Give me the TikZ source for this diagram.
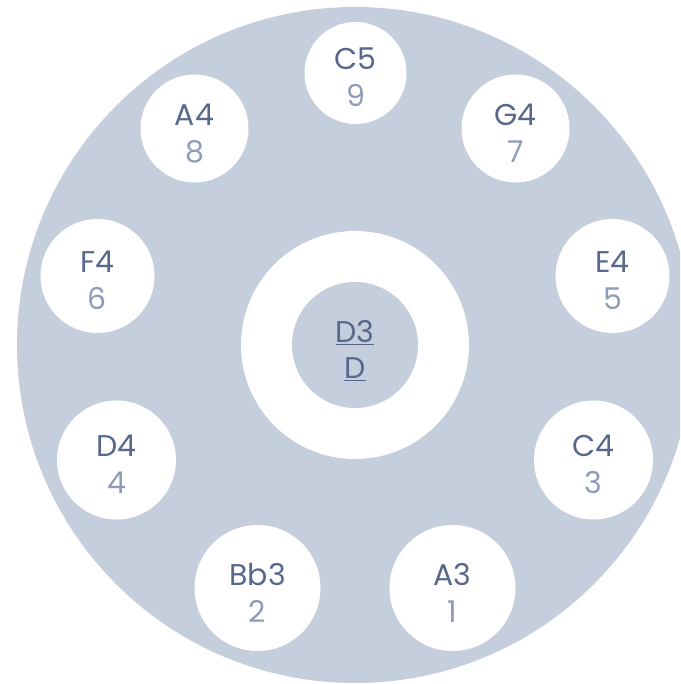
\documentclass[tikz,border=0pt]{standalone}
\usepackage{fontspec}
\setmainfont{Poppins}
\usetikzlibrary{positioning,calc}
\definecolor{panblue}{RGB}{197,206,221}
\definecolor{notedark}{RGB}{88,104,140}
\definecolor{notelight}{RGB}{143,155,184}
\tikzset{
  tonefield/.style={circle,fill=white,inner sep=0pt,minimum size=#1},
  notename/.style={anchor=base,text=notedark,inner sep=0pt,font=\fontsize{30}{37}\selectfont},
  notenum/.style={anchor=base,text=notelight,inner sep=0pt,font=\fontsize{30}{37}\selectfont}
}
\begin{document}
\begin{tikzpicture}[x=1pt,y=1pt]
 \useasboundingbox (-355,-339) rectangle (325,345);
 \clip (-355,-339) rectangle (325,345);
 % shell
 \fill[panblue] (0,0) circle (338);
 % ding
 \node[tonefield=228pt] (ring) at (0,0) {};
 \node[circle,fill=panblue,inner sep=0pt,minimum size=126pt] (ding) at (0,0) {};
 \node[notename] (dingname) at (0,2) {\underline{D3}};
 \node[notename] (dingkey) at (0,-34) {\underline{D}};
 % tone fields
 \foreach \nm/\k/\x/\y/\d in {A3/1/97.5/-243/126, Bb3/2/-97.5/-243/126,
   C4/3/238.5/-115/119, D4/4/-238.5/-115/119, E4/5/257.5/69/114,
   F4/6/-257.5/69/114, G4/7/160.5/216.5/108, A4/8/-160.5/216.5/108,
   C5/9/0.5/272/102} {
   \node[tonefield=\d pt] (c\k) at (\x,\y) {};
   \node[notename] (n\k) at ($(c\k.center)+(0,3)$) {\nm};
   \node[notenum] (k\k) at ($(c\k.center)+(0,-34)$) {\k};
 }
\end{tikzpicture}
\end{document}
